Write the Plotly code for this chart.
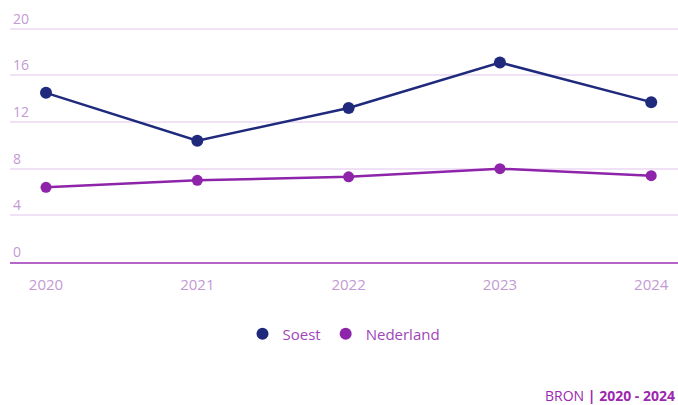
import plotly.graph_objects as go

years = ["2020", "2021", "2022", "2023", "2024"]
soest = [14.5, 10.4, 13.2, 17.1, 13.7]
nederland = [6.4, 7.0, 7.3, 8.0, 7.4]
y_ticks = [0, 4, 8, 12, 16, 20]

SOEST_C = "#1f2a7d"
NL_C = "#8e24aa"

x_idx = list(range(len(years)))

fig = go.Figure()
fig.add_trace(go.Scatter(
    x=x_idx, y=soest, name="Soest", mode="lines+markers", showlegend=False,
    line=dict(color=SOEST_C, width=2.5),
    marker=dict(color=SOEST_C, size=12),
))
fig.add_trace(go.Scatter(
    x=x_idx, y=nederland, name="Nederland", mode="lines+markers", showlegend=False,
    line=dict(color=NL_C, width=2.5),
    marker=dict(color=NL_C, size=11),
))
# legend entries (circle only)
fig.add_trace(go.Scatter(x=[None], y=[None], name="Soest", mode="markers",
                         marker=dict(color=SOEST_C, size=17)))
fig.add_trace(go.Scatter(x=[None], y=[None], name="Nederland", mode="markers",
                         marker=dict(color=NL_C, size=17)))

fig.update_layout(
    width=678, height=405,
    margin=dict(l=10, r=0, t=22, b=143),
    paper_bgcolor="white", plot_bgcolor="white",
    font=dict(family="Open Sans", color="#a24bbd"),
    showlegend=True,
    legend=dict(orientation="h", x=0.5, xanchor="center", y=-0.3, yanchor="middle",
                font=dict(size=15, color="#a045ba"), itemsizing="constant",
                itemwidth=30, tracegroupgap=0),
    xaxis=dict(
        tickmode="array", tickvals=x_idx, ticktext=years,
        range=[-0.238, 4.177], showgrid=False, zeroline=False,
        showline=True, linecolor="#b565c8", linewidth=2,
        tickfont=dict(size=15, color="#c39ad4"), ticklabelstandoff=8,
        fixedrange=True,
    ),
    yaxis=dict(
        tickmode="array", tickvals=y_ticks, range=[0, 20.57],
        showgrid=True, gridcolor="#f1e1f6", gridwidth=1.5,
        zeroline=False, showline=False,
        ticklabelposition="inside top", ticklabeloverflow="allow",
        ticklabelstandoff=0,
        tickfont=dict(size=14, color="#c39ad4"),
        fixedrange=True,
    ),
)

fig.add_annotation(
    text="BRON <b>|</b> <b>2020 - 2024</b>", xref="paper", yref="paper",
    x=0.999, y=-0.555, xanchor="right", yanchor="middle", showarrow=False,
    font=dict(size=14, color="#9c27b0", family="Open Sans"),
)

fig.write_html("out.html", config={"displayModeBar": False},
               post_script="document.body.style.margin='0px';")
